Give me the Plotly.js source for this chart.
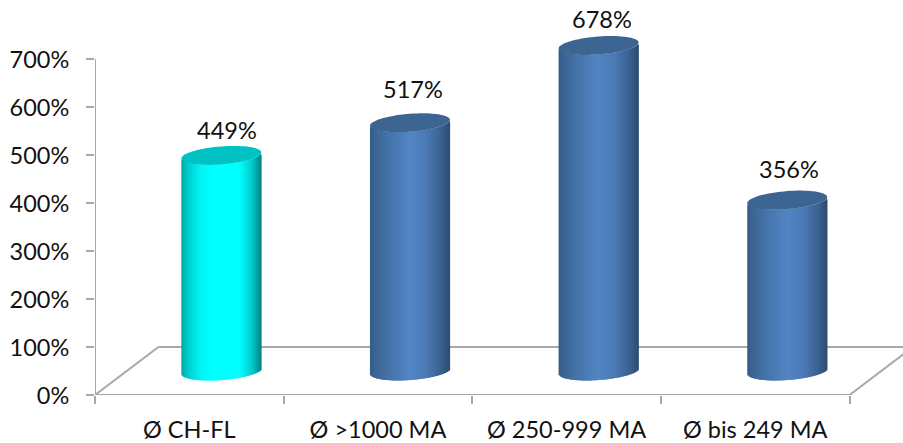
<!DOCTYPE html>
<html><head><meta charset="utf-8">
<script src="https://cdn.plot.ly/plotly-3.0.1.min.js"></script>
<style>html,body{margin:0;padding:0;background:#fff;overflow:hidden}</style>
</head><body><div id="chart" style="width:903px;height:443px"></div>
<script>
const categories = ['Ø CH-FL', 'Ø >1000 MA', 'Ø 250-999 MA', 'Ø bis 249 MA'];
const values = [449, 517, 678, 356];
const yTicks = [0, 100, 200, 300, 400, 500, 600, 700];
const labelRise = [25, 34, 26, 31];
const labelShift = [6, 3, 3, 2];

const W = 903, H = 443, mL = 94.5, mB = 47.5;
const pxPerCat = 188.75, pxPerUnit = 336.5 / 700;
const depthUnits = 50, depthX = 32 / pxPerCat;      // bars stand mid-way on the 3D floor
const radiusX = 40, radiusY = 9, tilt = 3;          // cylinder ellipse, px
const strips = 80;

const cyanStops = [[0,[0,165,165]],[0.08,[0,205,205]],[0.25,[0,245,245]],[0.38,[0,255,255]],[0.72,[0,255,255]],[0.88,[0,205,205]],[1,[0,130,130]]];
const blueStops = [[0,[54,92,136]],[0.1,[62,104,152]],[0.3,[72,120,176]],[0.5,[82,133,196]],[0.7,[76,122,182]],[0.88,[60,98,146]],[1,[46,76,110]]];
const stopsFor = [cyanStops, blueStops, blueStops, blueStops];
const capColors = ['#00c2c2', '#3c6592', '#3c6592', '#3c6592'];

function shade(stops, t) {
  for (let i = 1; i < stops.length; i++) {
    if (t <= stops[i][0]) {
      const [p0, c0] = stops[i-1], [p1, c1] = stops[i];
      const f = (t - p0) / (p1 - p0);
      return 'rgb(' + c0.map((c, k) => Math.round(c + (c1[k] - c) * f)).join(',') + ')';
    }
  }
  return 'rgb(' + stops[stops.length-1][1].join(',') + ')';
}

const stripCat = (2 * radiusX / strips) / pxPerCat;
const overlap = 1.2 / pxPerCat;
const traces = [];
for (let s = 0; s < strips; s++) {
  const t = (s + 0.5) / strips, u = 2 * t - 1;
  const dy = (tilt * u - radiusY * Math.sqrt(1 - u * u)) / pxPerUnit;
  traces.push({
    type: 'bar', x: categories, y: values,
    base: values.map(() => depthUnits + dy),
    width: stripCat + (s < strips - 1 ? overlap : 0),
    offset: depthX + (u * radiusX) / pxPerCat - stripCat / 2,
    marker: {color: stopsFor.map(st => shade(st, t)), line: {width: 0}},
    hoverinfo: 'skip', showlegend: false
  });
}

const shapes = [];
const lineStyle = {color: '#a8a8a8', width: 2};
const backX = 63.5 / pxPerCat;
const line = (x0, y0, x1, y1) => ({type:'line', xref:'x', yref:'y', layer:'below', x0, y0, x1, y1, line:lineStyle});
shapes.push(line(-0.5, 0, -0.5, 700));              // value axis line
shapes.push(line(-0.5, 0, 3.5, 0));                 // category axis line
shapes.push(line(-0.5, 0, -0.5 + backX, 100));      // 3D floor outline
shapes.push(line(-0.5 + backX, 100, 3.5 + backX, 100));
shapes.push(line(3.5, 0, 3.5 + backX, 100));
// cylinder top caps
values.forEach((v, i) => {
  const pts = [];
  for (let a = 0; a < 72; a++) {
    const th = a / 72 * 2 * Math.PI;
    const px = i + depthX + radiusX * Math.cos(th) / pxPerCat;
    const py = depthUnits + v + (tilt * Math.cos(th) + radiusY * Math.sin(th)) / pxPerUnit;
    pts.push((a ? 'L' : 'M') + px.toFixed(4) + ',' + py.toFixed(3));
  }
  shapes.push({type:'path', xref:'x', yref:'y', layer:'above', path: pts.join(' ') + ' Z',
    fillcolor: capColors[i], line:{width:0}});
});

const fontSize = 23.5;
const annotations = values.map((v, i) => ({
  xref:'x', yref:'y', x: i + depthX, y: depthUnits + v, text: v + '%', showarrow:false,
  xanchor:'center', yanchor:'middle', xshift: labelShift[i], yshift: labelRise[i],
  font:{family:'Lato, sans-serif', size:fontSize, color:'#111111'}
}));

const layout = {
  width: W, height: H,
  margin: {l: mL, r: 0, t: 0, b: mB, pad: 0},
  paper_bgcolor: '#ffffff', plot_bgcolor: 'rgba(0,0,0,0)',
  barmode: 'overlay', showlegend: false,
  font: {family: 'Lato, sans-serif', size: fontSize, color: '#111111'},
  xaxis: {type:'category', categoryorder:'array', categoryarray:categories,
    range:[-0.5, -0.5 + (W - mL) / pxPerCat],
    tickson:'boundaries', ticks:'outside', ticklen:8, tickwidth:2, tickcolor:'#a8a8a8',
    showline:false, showgrid:false, zeroline:false,
    ticklabelstandoff:18, tickfont:{family:'Lato, sans-serif', size:fontSize, color:'#111111'}, automargin:false},
  yaxis: {range:[0, (H - mB) / pxPerUnit], tickmode:'array', tickvals:yTicks, ticktext:yTicks.map(v => v + '%'),
    ticks:'outside', ticklen:8, tickwidth:2, tickcolor:'#a8a8a8',
    showline:false, showgrid:false, zeroline:false, ticklabelshift:1,
    ticklabelstandoff:12, tickfont:{family:'Lato, sans-serif', size:fontSize, color:'#111111'}, automargin:false},
  shapes, annotations
};
Plotly.newPlot('chart', traces, layout, {displayModeBar:false, staticPlot:true});
</script></body></html>
